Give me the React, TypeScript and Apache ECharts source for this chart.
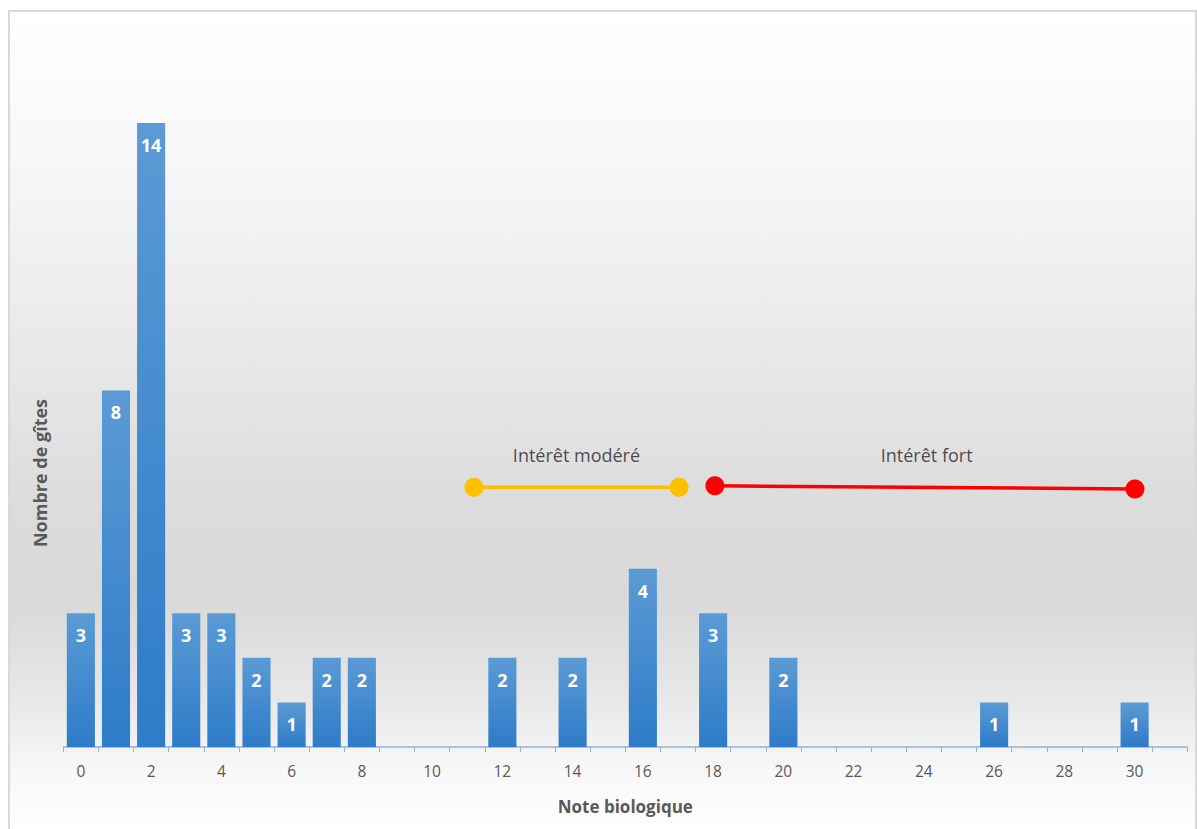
import React, { useEffect, useRef } from "react";
import * as echarts from "echarts";

const categories: string[] = Array.from({ length: 32 }, (_, i) => String(i));
const counts: (number | null)[] = [
  3, 8, 14, 3, 3, 2, 1, 2, 2, null, null, null, 2, null, 2, null,
  4, null, 3, null, 2, null, null, null, null, null, 1, null, null, null, 1, null,
];
const moderateLine: number[][] = [
  [11.19, 5.83],
  [17.03, 5.83],
];
const strongLine: number[][] = [
  [18.05, 5.86],
  [30.01, 5.79],
];
const annotationLabels = [
  { name: "Intérêt modéré", value: [14.11, 6.55] },
  { name: "Intérêt fort", value: [24.08, 6.55] },
];
const xTitle = "Note biologique";
const yTitle = "Nombre de gîtes";

export default function App() {
  const ref = useRef<HTMLDivElement>(null);
  useEffect(() => {
    document.body.style.overflow = "hidden";
    const chart = echarts.init(ref.current!, null, { renderer: "svg" });
    const font = "'Open Sans', sans-serif";
    chart.setOption({
      animation: false,
      backgroundColor: "transparent",
      textStyle: { fontFamily: font },
      grid: { left: 53.3, top: 111, width: 1124, height: 624 },
      xAxis: [
        {
          type: "category",
          data: categories,
          boundaryGap: true,
          axisLine: { lineStyle: { color: "#8fb3da", width: 1.5 } },
          axisTick: { show: true, interval: 0, length: 5, lineStyle: { color: "#8fb3da" } },
          axisLabel: { interval: 1, color: "#595959", fontSize: 15.5, margin: 16, fontFamily: font },
          name: xTitle,
          nameLocation: "middle",
          nameGap: 51,
          nameTextStyle: { color: "#595959", fontSize: 17, fontWeight: "bold", fontFamily: font },
        },
        {
          type: "value",
          min: -0.5,
          max: 31.5,
          show: false,
        },
      ],
      yAxis: {
        type: "value",
        min: 0,
        max: 14,
        show: false,
        splitLine: { show: false },
      },
      graphic: [
        {
          type: "text",
          x: 30,
          y: 461,
          rotation: Math.PI / 2,
          style: {
            text: yTitle,
            fill: "#595959",
            font: `bold 18px ${font}`,
            align: "center",
            verticalAlign: "middle",
          },
        },
      ],
      series: [
        {
          type: "bar",
          data: counts,
          barCategoryGap: "20%",
          itemStyle: {
            color: new echarts.graphic.LinearGradient(0, 0, 0, 1, [
              { offset: 0, color: "#5b9bd5" },
              { offset: 1, color: "#2e7bc8" },
            ]),
          },
          label: {
            show: true,
            position: "insideTop",
            distance: 13,
            color: "#ffffff",
            fontSize: 18,
            fontWeight: "bold",
            fontFamily: font,
          },
        },
        {
          type: "line",
          xAxisIndex: 1,
          data: moderateLine,
          symbol: "circle",
          symbolSize: 19,
          lineStyle: { color: "#ffc000", width: 3.5 },
          itemStyle: { color: "#ffc000" },
        },
        {
          type: "line",
          xAxisIndex: 1,
          data: strongLine,
          symbol: "circle",
          symbolSize: 19,
          lineStyle: { color: "#ff0000", width: 3.5 },
          itemStyle: { color: "#ff0000" },
        },
        {
          type: "scatter",
          xAxisIndex: 1,
          data: annotationLabels,
          symbolSize: 0,
          label: {
            show: true,
            position: "inside",
            formatter: (p: any) => p.name,
            color: "#1f1f1f",
            fontSize: 18,
            fontFamily: font,
          },
        },
      ],
    });
    return () => chart.dispose();
  }, []);
  return (
    <div
      style={{
        position: "absolute",
        left: 8,
        top: 10,
        width: 1185,
        height: 821,
        border: "2px solid #d9d9d9",
        background:
          "linear-gradient(to bottom, #ffffff 0%, #f6f6f6 20%, #e6e6e6 45%, #dcdcdc 60%, #d9d9d9 72%, #e8e8e8 84%, #f7f7f7 92%, #ffffff 100%)",
      }}
    >
      <div ref={ref} style={{ width: 1185, height: 817 }} />
    </div>
  );
}
